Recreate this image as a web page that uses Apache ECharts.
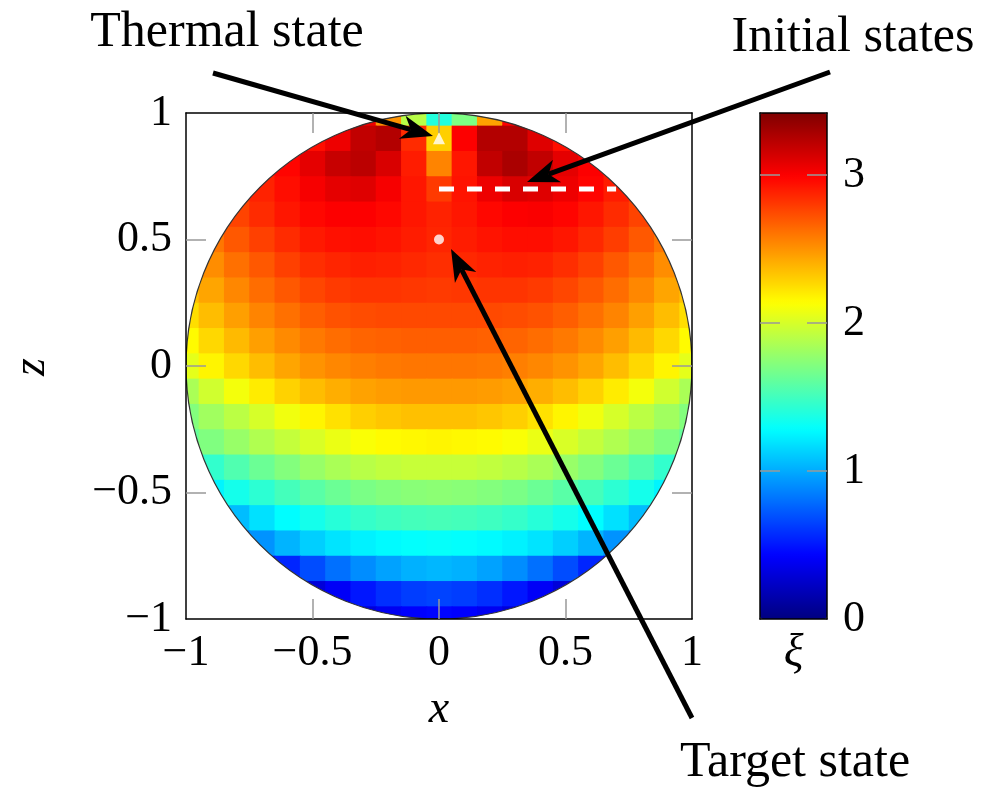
<!DOCTYPE html>
<html>
<head>
<meta charset="utf-8">
<script src="https://cdn.jsdelivr.net/npm/echarts@6/dist/echarts.min.js"></script>
<style>
  html, body { margin: 0; background: #fff; }
  #chart { width: 1000px; height: 794px; }
</style>
</head>
<body>
<div id="chart"></div>
<script>
// grid of xi values, x = -1 .. 1 (step 0.1), rows from z = 1 down to z = -1
const _ = null;
const xValues = [-1, -0.9, -0.8, -0.7, -0.6, -0.5, -0.4, -0.3, -0.2, -0.1, 0, 0.1, 0.2, 0.3, 0.4, 0.5, 0.6, 0.7, 0.8, 0.9, 1];
const zValues = [1, 0.9, 0.8, 0.7, 0.6, 0.5, 0.4, 0.3, 0.2, 0.1, 0, -0.1, -0.2, -0.3, -0.4, -0.5, -0.6, -0.7, -0.8, -0.9, -1];
const xiRows = [
  [_,_,_,_,_,_,_,3.05,2.5,1.9,1.4,1.7,2.45,3.0,_,_,_,_,_,_,_],
  [_,_,_,_,_,2.95,3.05,3.2,3.25,2.85,2.3,3.0,3.25,3.25,3.1,2.95,_,_,_,_,_],
  [_,_,_,2.9,2.98,3.08,3.18,3.22,3.12,2.9,2.55,2.92,3.2,3.28,3.2,3.08,3.0,2.9,_,_,_],
  [_,_,2.82,2.88,2.95,3.02,3.08,3.1,3.02,2.92,2.8,2.93,3.05,3.12,3.1,3.05,2.98,2.9,2.82,_,_],
  [_,_,2.77,2.85,2.92,2.97,3.0,3.0,2.97,2.92,2.88,2.92,2.97,3.0,3.01,2.98,2.92,2.85,2.77,_,_],
  [_,2.6,2.7,2.78,2.85,2.91,2.94,2.95,2.93,2.9,2.87,2.9,2.93,2.95,2.95,2.92,2.86,2.79,2.7,2.6,_],
  [_,2.52,2.62,2.7,2.78,2.84,2.87,2.89,2.88,2.86,2.84,2.86,2.88,2.89,2.88,2.84,2.78,2.7,2.62,2.52,_],
  [2.35,2.44,2.54,2.63,2.7,2.76,2.8,2.82,2.82,2.81,2.8,2.81,2.82,2.82,2.8,2.76,2.7,2.63,2.54,2.44,2.35],
  [2.25,2.36,2.46,2.55,2.62,2.68,2.72,2.74,2.75,2.75,2.75,2.75,2.75,2.74,2.72,2.68,2.62,2.55,2.46,2.36,2.25],
  [2.15,2.27,2.37,2.46,2.53,2.59,2.63,2.66,2.67,2.68,2.68,2.68,2.67,2.66,2.63,2.59,2.53,2.46,2.37,2.27,2.15],
  [2.05,2.17,2.27,2.36,2.44,2.5,2.54,2.57,2.59,2.6,2.6,2.6,2.59,2.57,2.54,2.5,2.44,2.36,2.27,2.17,2.05],
  [1.85,1.98,2.1,2.2,2.29,2.36,2.41,2.45,2.47,2.48,2.48,2.48,2.47,2.45,2.41,2.36,2.29,2.2,2.1,1.98,1.85],
  [1.72,1.82,1.91,2.0,2.09,2.17,2.24,2.3,2.33,2.35,2.35,2.35,2.33,2.3,2.24,2.17,2.09,2.0,1.91,1.82,1.72],
  [1.62,1.71,1.79,1.87,1.94,2.01,2.07,2.12,2.15,2.16,2.17,2.16,2.15,2.12,2.07,2.01,1.94,1.87,1.79,1.71,1.62],
  [_,1.45,1.55,1.64,1.72,1.79,1.85,1.9,1.93,1.95,1.95,1.95,1.93,1.9,1.85,1.79,1.72,1.64,1.55,1.45,_],
  [_,1.25,1.35,1.43,1.51,1.58,1.64,1.69,1.72,1.74,1.75,1.74,1.72,1.69,1.64,1.58,1.51,1.43,1.35,1.25,_],
  [_,_,1.06,1.18,1.28,1.35,1.41,1.46,1.49,1.51,1.52,1.51,1.49,1.46,1.41,1.35,1.28,1.18,1.06,_,_],
  [_,_,0.8,0.92,1.03,1.12,1.19,1.24,1.27,1.29,1.3,1.29,1.27,1.24,1.19,1.12,1.03,0.92,0.8,_,_],
  [_,_,_,0.45,0.55,0.68,0.8,0.9,0.97,1.02,1.04,1.02,0.97,0.9,0.8,0.68,0.55,0.45,_,_,_],
  [_,_,_,_,_,0.3,0.4,0.5,0.58,0.63,0.65,0.63,0.58,0.5,0.4,0.3,_,_,_,_,_],
  [_,_,_,_,_,_,_,0.3,0.38,0.42,0.44,0.42,0.38,0.3,_,_,_,_,_,_,_]
];
const cellStep = 0.1;

const thermalState = [0, 0.9];
const targetState = [0, 0.5];
const initialStatesX = [0, 0.7];
const initialStatesZ = 0.7;

const axisTicks = [-1, -0.5, 0, 0.5, 1];
const xiTicks = [0, 1, 2, 3];
const xiMax = 3.42;

// pgfplots "jet"
const jet = ['#000080', '#0000ff', '#0080ff', '#00ffff', '#80ff80', '#ffff00', '#ff8000', '#ff0000', '#800000'];

const cells = [];
zValues.forEach((z, r) => {
  xValues.forEach((x, c) => {
    const v = xiRows[r][c];
    if (v !== null) cells.push([x, z, v]);
  });
});

const FONT = '"Liberation Serif", "Times New Roman", serif';
const minus = v => String(v).replace('-', '\u2212');

const frameAxis = {
  type: 'value', min: -1, max: 1, interval: 0.5, z: 10,
  axisLine: { show: true, onZero: false, lineStyle: { color: '#000', width: 1.5 } },
  axisTick: { show: true, inside: true, length: 20, customValues: [-0.5, 0, 0.5], lineStyle: { color: '#999', width: 1.5 } },
  splitLine: { show: false }
};
const barAxis = {
  type: 'value', z: 10,
  axisLine: { show: true, onZero: false, lineStyle: { color: '#000', width: 1.5 } },
  splitLine: { show: false }
};
const labelStyle = { fontFamily: FONT, fontSize: 44, color: '#000' };
const nameStyle = { fontFamily: FONT, fontSize: 46, fontStyle: 'italic', color: '#000' };

// stealth-like arrow from (x1,y1) to tip (x2,y2)
function arrow(x1, y1, x2, y2) {
  const dx = x2 - x1, dy = y2 - y1, len = Math.hypot(dx, dy);
  const ux = dx / len, uy = dy / len, nx = -uy, ny = ux;
  const L = 32, W = 12, notch = 9;
  const bx = x2 - L * ux, by = y2 - L * uy;
  const mx = x2 - (L - notch) * ux, my = y2 - (L - notch) * uy;
  return [
    { type: 'line', z: 100, shape: { x1: x1, y1: y1, x2: mx, y2: my }, style: { stroke: '#000', lineWidth: 5 } },
    { type: 'polygon', z: 100, shape: { points: [[x2, y2], [bx + W * nx, by + W * ny], [mx, my], [bx - W * nx, by - W * ny]] }, style: { fill: '#000' } }
  ];
}
function note(text, x, y) {
  return { type: 'text', z: 100, x: x, y: y, style: { text: text, font: '50px ' + FONT, fill: '#000', align: 'center', verticalAlign: 'middle' } };
}

const chart = echarts.init(document.getElementById('chart'));
chart.setOption({
  animation: false,
  backgroundColor: '#fff',
  grid: [
    { left: 186, top: 113, width: 506, height: 506, outerBoundsMode: 'none' },
    { left: 760, top: 113, width: 67, height: 506, outerBoundsMode: 'none' }
  ],
  xAxis: [
    Object.assign({}, frameAxis, {
      gridIndex: 0, position: 'bottom',
      axisLabel: Object.assign({ margin: 12, customValues: axisTicks, formatter: minus }, labelStyle),
      name: 'x', nameLocation: 'middle', nameGap: 68, nameTextStyle: nameStyle
    }),
    Object.assign({}, frameAxis, { gridIndex: 0, position: 'top', axisLabel: { show: false } }),
    Object.assign({}, barAxis, {
      gridIndex: 1, position: 'bottom', min: 0, max: 1,
      axisTick: { show: false }, axisLabel: { show: false },
      name: '\u03BE', nameLocation: 'middle', nameGap: 12, nameTextStyle: nameStyle
    }),
    Object.assign({}, barAxis, { gridIndex: 1, position: 'top', min: 0, max: 1, axisTick: { show: false }, axisLabel: { show: false } })
  ],
  yAxis: [
    Object.assign({}, frameAxis, {
      gridIndex: 0, position: 'left',
      axisLabel: Object.assign({ margin: 14, customValues: axisTicks, formatter: minus }, labelStyle)
    }),
    Object.assign({}, frameAxis, { gridIndex: 0, position: 'right', axisLabel: { show: false } }),
    Object.assign({}, barAxis, {
      gridIndex: 1, position: 'left', min: 0, max: xiMax, interval: 1,
      axisTick: { show: true, inside: true, length: 20, customValues: [1, 2, 3], lineStyle: { color: '#999', width: 1.5 } },
      axisLabel: { show: false }
    }),
    Object.assign({}, barAxis, {
      gridIndex: 1, position: 'right', min: 0, max: xiMax, interval: 1,
      axisTick: { show: true, inside: true, length: 20, customValues: [1, 2, 3], lineStyle: { color: '#999', width: 1.5 } },
      axisLabel: Object.assign({ margin: 16, customValues: xiTicks }, labelStyle)
    })
  ],
  visualMap: {
    type: 'continuous', min: 0, max: xiMax, dimension: 2, seriesIndex: 0,
    calculable: false, hoverLink: false, orient: 'vertical',
    left: 760, top: 113, itemWidth: 67, itemHeight: 506, padding: 0,
    inRange: { color: jet }
  },
  series: [
    {
      type: 'custom', xAxisIndex: 0, yAxisIndex: 0, data: cells, clip: true, z: 2, silent: true,
      encode: { x: 0, y: 1 },
      renderItem: function (params, api) {
        const c = api.coord([api.value(0), api.value(1)]);
        const s = api.size([cellStep, cellStep]);
        return {
          type: 'rect',
          shape: { x: c[0] - s[0] / 2, y: c[1] - s[1] / 2, width: s[0] + 1, height: s[1] + 1 },
          style: { fill: api.visual('color') }
        };
      }
    },
    {
      // white outside the disk, plus its outline
      type: 'custom', xAxisIndex: 0, yAxisIndex: 0, data: [[0, 0]], clip: true, z: 3, silent: true,
      renderItem: function (params, api) {
        const c = api.coord([0, 0]);
        const r = api.size([1, 1])[0];
        return {
          type: 'group', children: [
            { type: 'ring', shape: { cx: c[0], cy: c[1], r0: r, r: r * 2 }, style: { fill: '#fff' } },
            { type: 'circle', shape: { cx: c[0], cy: c[1], r: r }, style: { fill: 'transparent', stroke: '#333', lineWidth: 1.3 } }
          ]
        };
      }
    },
    {
      type: 'line', xAxisIndex: 0, yAxisIndex: 0, z: 5, silent: true, symbol: 'none',
      data: initialStatesX.map(x => [x, initialStatesZ]),
      lineStyle: { color: '#fff', width: 5, type: [15, 13] }
    },
    {
      type: 'scatter', xAxisIndex: 0, yAxisIndex: 0, z: 6, silent: true,
      symbol: 'triangle', symbolSize: 12, data: [thermalState],
      itemStyle: { color: '#fff' }
    },
    {
      type: 'scatter', xAxisIndex: 0, yAxisIndex: 0, z: 6, silent: true,
      symbol: 'circle', symbolSize: 10, data: [targetState],
      itemStyle: { color: '#fff' }
    }
  ],
  graphic: {
    elements: [
      note('Thermal state', 227, 33),
      note('Initial states', 853, 38),
      note('Target state', 795, 763),
      {
        type: 'text', z: 100, x: 32, y: 367, rotation: Math.PI / 2,
        style: { text: 'z', font: 'italic 46px ' + FONT, fill: '#000', align: 'center', verticalAlign: 'middle' }
      }
    ].concat(arrow(213, 73, 433, 136), arrow(830, 72, 527, 182), arrow(692, 718, 451, 249))
  }
});
</script>
</body>
</html>
